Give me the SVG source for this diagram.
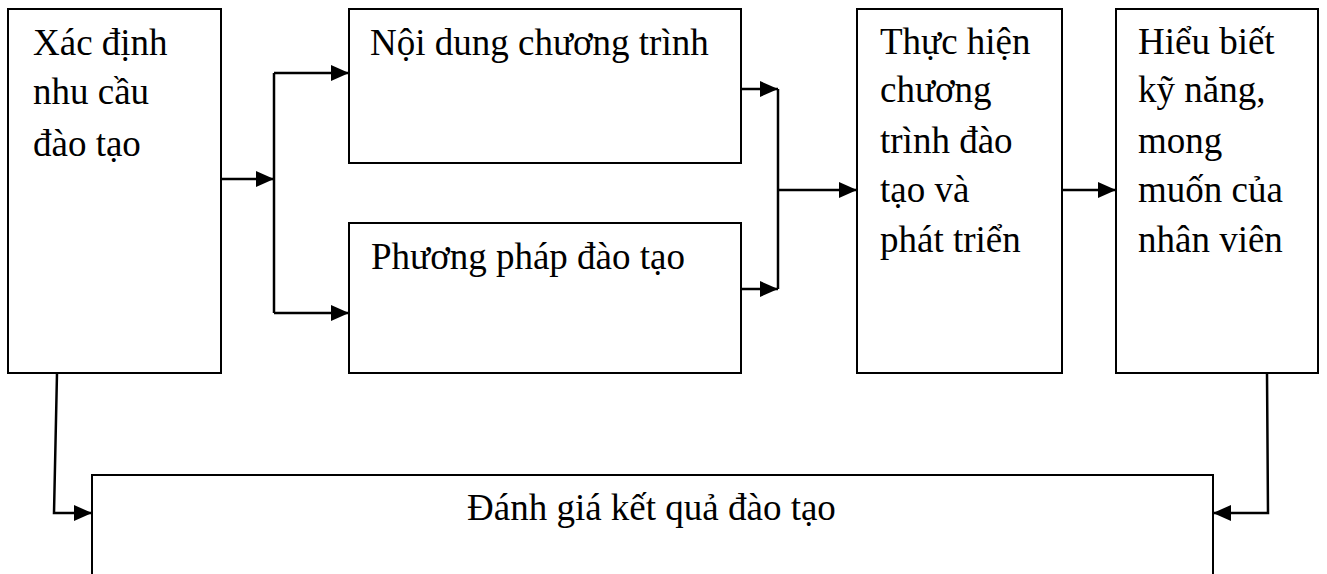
<svg xmlns="http://www.w3.org/2000/svg" width="1327" height="574" viewBox="0 0 1327 574">
<style>
.box{fill:#fff;stroke:#000;stroke-width:2}
.t{font-family:"Liberation Serif","Times New Roman",serif;font-size:37px;fill:#000}
.c{fill:none;stroke:#000;stroke-width:2.5}
</style>
<defs>
<marker id="ah2" markerWidth="18" markerHeight="16" refX="18" refY="8" orient="auto" markerUnits="userSpaceOnUse" viewBox="0 0 18 16">
<path d="M0,0 L18,8 L0,16 Z" fill="#000"/>
</marker>
</defs>
<rect width="1327" height="574" fill="#fff"/>
<g id="n1">
<rect class="box" x="8" y="9" width="213" height="364"/>
<text class="t" x="33" y="55">Xác định</text>
<text class="t" x="33" y="104">nhu cầu</text>
<text class="t" x="33" y="156">đào tạo</text>
</g>
<g id="n2">
<rect class="box" x="349" y="9" width="392" height="154"/>
<text class="t" x="370" y="55">Nội dung chương trình</text>
</g>
<g id="n3">
<rect class="box" x="349" y="223" width="392" height="150"/>
<text class="t" x="371" y="269">Phương pháp đào tạo</text>
</g>
<g id="n4">
<rect class="box" x="857" y="9" width="205" height="364"/>
<text class="t" x="880" y="54">Thực hiện</text>
<text class="t" x="880" y="102">chương</text>
<text class="t" x="880" y="153">trình đào</text>
<text class="t" x="880" y="202">tạo và</text>
<text class="t" x="880" y="252">phát triển</text>
</g>
<g id="n5">
<rect class="box" x="1116" y="9" width="202" height="364"/>
<text class="t" x="1138" y="54">Hiểu biết</text>
<text class="t" x="1138" y="102">kỹ năng,</text>
<text class="t" x="1138" y="153">mong</text>
<text class="t" x="1138" y="202">muốn của</text>
<text class="t" x="1138" y="252">nhân viên</text>
</g>
<g id="n6">
<rect class="box" x="92" y="475" width="1121" height="120"/>
<text class="t" x="467" y="520">Đánh giá kết quả đào tạo</text>
</g>
<g id="connectors">
<path class="c" d="M221,179 H274" marker-end="url(#ah2)"/>
<path class="c" d="M274,73 V313"/>
<path class="c" d="M274,73 H349" marker-end="url(#ah2)"/>
<path class="c" d="M274,313 H349" marker-end="url(#ah2)"/>
<path class="c" d="M741,89 H778" marker-end="url(#ah2)"/>
<path class="c" d="M741,289 H778" marker-end="url(#ah2)"/>
<path class="c" d="M778,89 V289"/>
<path class="c" d="M778,190 H857" marker-end="url(#ah2)"/>
<path class="c" d="M1062,190 H1116" marker-end="url(#ah2)"/>
<path class="c" d="M57,373 L54,513 H92" marker-end="url(#ah2)"/>
<path class="c" d="M1267,373 L1268,513 H1213" marker-end="url(#ah2)"/>
</g>
</svg>
